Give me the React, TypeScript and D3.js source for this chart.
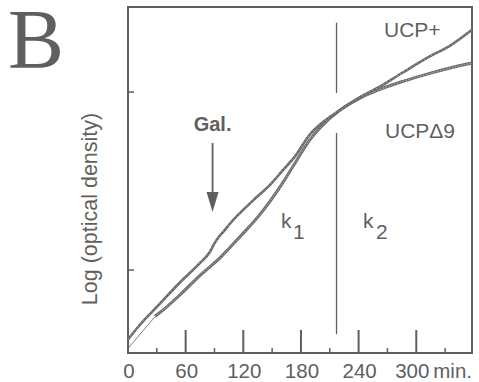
import React from 'react';
import * as d3 from 'd3';

// time (min) and log10 OD
const ucpPlusTime = [0, 12, 33, 54, 75, 85, 90, 95, 100, 106, 130, 148, 161, 174, 189, 205, 221, 241, 262, 286, 314, 335, 358];
const ucpPlusLogOD = [-1.39, -1.31, -1.19, -1.07, -0.96, -0.9, -0.85, -0.81, -0.78, -0.74, -0.61, -0.52, -0.44, -0.36, -0.24, -0.16, -0.1, -0.03, 0.03, 0.11, 0.2, 0.26, 0.35];

const ucpD9Time = [28, 33, 54, 75, 96, 117, 137, 161, 176, 189, 200, 221, 241, 262, 286, 314, 335, 358];
const ucpD9LogOD = [-1.26, -1.24, -1.14, -1.03, -0.93, -0.81, -0.69, -0.51, -0.38, -0.27, -0.2, -0.1, -0.035, 0.015, 0.06, 0.105, 0.135, 0.163];

// thin extrapolation line back to t = 0
const fitTime = [0, 30];
const fitLogOD = [-1.44, -1.25];

const xMajorTicks = [0, 60, 120, 180, 240, 300];
const xMinorTicks = [30, 90, 150, 210, 270, 330];
const yTicks = [-1, 0];

const galTime = 88;
const boundaryTime = 217;

const W = 479;
const H = 382;
const margin = { top: 7, right: 7, bottom: 29, left: 128 };
const grey = '#5f5f5f';

const App: React.FC = () => {
  const x = d3.scaleLinear().domain([0, 358]).range([margin.left, W - margin.right]);
  const y = d3.scaleLinear().domain([-1.466, 0.478]).range([H - margin.bottom, margin.top]);

  const line = d3.line<[number, number]>()
    .x(d => x(d[0]))
    .y(d => y(d[1]))
    .curve(d3.curveMonotoneX);

  const plus = ucpPlusTime.map((t, i) => [t, ucpPlusLogOD[i]] as [number, number]);
  const d9 = ucpD9Time.map((t, i) => [t, ucpD9LogOD[i]] as [number, number]);
  const fit = fitTime.map((t, i) => [t, fitLogOD[i]] as [number, number]);

  const x0 = x(0);
  const x1 = x(358);
  const yb = y(-1.466);
  const yt = y(0.478);
  const font = '"Liberation Sans", Arial, sans-serif';
  const gx = x(galTime);

  return (
    <div style={{ position: 'fixed', left: 0, top: 0 }}>
      <svg width={W} height={H} style={{ display: 'block', background: '#fff' }}>
        <text x={8} y={68} fontFamily='"Liberation Serif", "Times New Roman", serif' fontSize={84} fill={grey}>B</text>

        {/* frame */}
        <rect x={x0} y={yt} width={x1 - x0} height={yb - yt} fill="none" stroke={grey} strokeWidth={2} />

        {xMajorTicks.map(t => (
          <g key={'M' + t}>
            <line x1={x(t)} x2={x(t)} y1={yb} y2={yb - 23} stroke={grey} strokeWidth={2} />
            <text x={x(t) + (t === 300 ? -4 : 1)} y={378} textAnchor="middle" fontFamily={font} fontSize={20.5} fill={grey}>{t}</text>
          </g>
        ))}
        {xMinorTicks.map(t => (
          <line key={'m' + t} x1={x(t)} x2={x(t)} y1={yb} y2={yb - 5} stroke={grey} strokeWidth={1.5} />
        ))}
        <text x={x(300) + 17} y={378} fontFamily={font} fontSize={20.5} fill={grey}>min.</text>

        {yTicks.map(v => (
          <line key={'y' + v} x1={x0} x2={x0 + 6} y1={y(v)} y2={y(v)} stroke={grey} strokeWidth={1.5} />
        ))}

        <text transform={`translate(97,209) rotate(-90)`} textAnchor="middle" fontFamily={font} fontSize={21.5} fill={grey}>
          Log (optical density)
        </text>

        {/* k1 / k2 boundary */}
        <line x1={x(boundaryTime)} x2={x(boundaryTime)} y1={y(0.39)} y2={y(-0.005)} stroke={grey} strokeWidth={1.3} />
        <line x1={x(boundaryTime)} x2={x(boundaryTime)} y1={y(-0.23)} y2={y(-1.36)} stroke={grey} strokeWidth={1.3} />

        {/* curves */}
        <path d={line(fit) || ''} fill="none" stroke={grey} strokeWidth={0.8} />
        <path d={line(d9) || ''} fill="none" stroke="#6a6a6a" strokeWidth={3} />
        <path d={line(d9) || ''} fill="none" stroke="#bdbdbd" strokeWidth={1} strokeDasharray="1.5 1.5" />
        <path d={line(plus) || ''} fill="none" stroke="#6a6a6a" strokeWidth={2.6} />
        <path d={line(plus) || ''} fill="none" stroke="#c8c8c8" strokeWidth={0.8} strokeDasharray="1 3" />

        {/* Gal. arrow */}
        <text x={gx} y={131} textAnchor="middle" fontFamily={font} fontWeight="bold" fontSize={20} fill={grey}>Gal.</text>
        <line x1={gx} x2={gx} y1={143} y2={195} stroke={grey} strokeWidth={1.8} />
        <path d={`M${gx - 6},${192} L${gx + 6},${192} L${gx},${212} Z`} fill={grey} />

        <text x={281} y={228} fontFamily={font} fontSize={21} fill={grey}>k</text>
        <text x={293} y={239} fontFamily={font} fontSize={21} fill={grey}>1</text>
        <text x={363} y={228} fontFamily={font} fontSize={21} fill={grey}>k</text>
        <text x={376} y={239} fontFamily={font} fontSize={21} fill={grey}>2</text>

        <text x={384} y={37} fontFamily={font} fontSize={21} fill={grey}>UCP+</text>
        <text x={385} y={138} fontFamily={font} fontSize={21} fill={grey}>UCPΔ9</text>
      </svg>
    </div>
  );
};

export default App;
